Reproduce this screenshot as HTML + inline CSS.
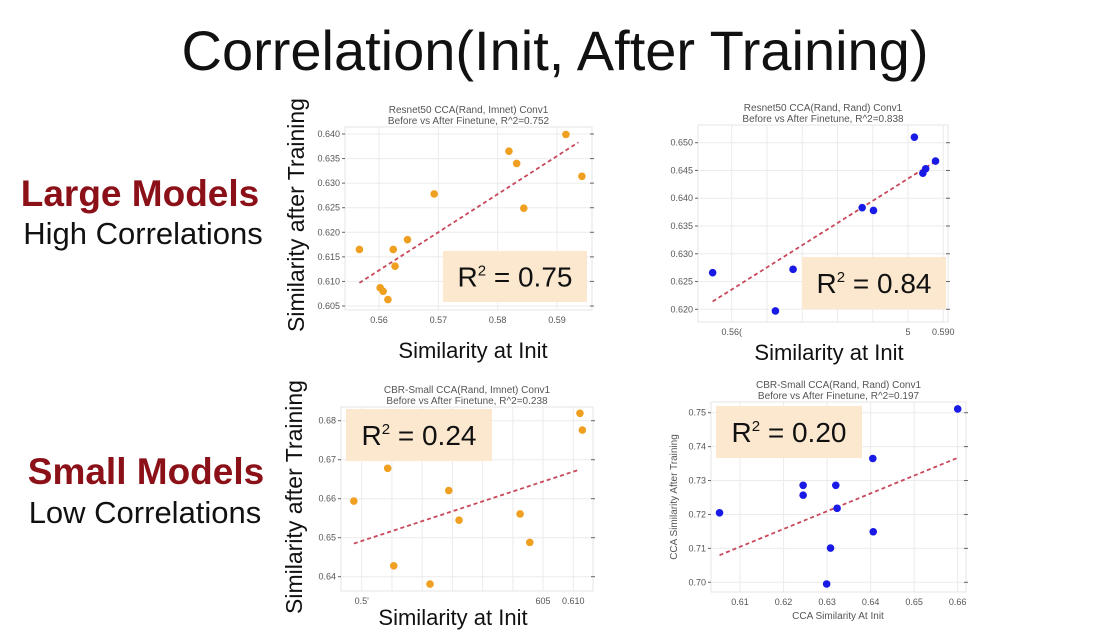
<!DOCTYPE html>
<html><head><meta charset="utf-8"><style>
html,body{margin:0;padding:0;background:#fff;}
svg{display:block;font-family:"Liberation Sans",Arial,sans-serif;}
</style></head><body>
<svg id="root" width="1114" height="632" viewBox="0 0 1114 632">
<text x="555" y="70" text-anchor="middle" font-size="56" fill="#111">Correlation(Init, After Training)</text>
<text x="140" y="206" text-anchor="middle" font-size="37" font-weight="bold" fill="#8b1018">Large Models</text>
<text x="143" y="244" text-anchor="middle" font-size="31" fill="#111">High Correlations</text>
<text x="146" y="484" text-anchor="middle" font-size="37" font-weight="bold" fill="#8b1018">Small Models</text>
<text x="145" y="523" text-anchor="middle" font-size="31" fill="#111">Low Correlations</text>
<g id="plots"></g>
</svg>
<script>
// Plot 1: Resnet50 Rand vs Imnet
const p1X = [0.5567,0.5602,0.5607,0.5615,0.5624,0.5627,0.5648,0.5693,0.5819,0.5832,0.5844,0.5915,0.5942];
const p1Y = [0.6165,0.6087,0.6080,0.6063,0.6165,0.6131,0.6185,0.6278,0.6365,0.6340,0.6249,0.6399,0.6314];
const p1LineX = [0.5567,0.5936];
const p1LineY = [0.6097,0.6383];
const p1XTicks = [0.56,0.57,0.58,0.59];
const p1XLabels = ["0.56","0.57","0.58","0.59"];
const p1YTicks = [0.605,0.610,0.615,0.620,0.625,0.630,0.635,0.640];
const p1YLabels = ["0.605","0.610","0.615","0.620","0.625","0.630","0.635","0.640"];
// Plot 2: Resnet50 Rand vs Rand
const p2X = [0.5573,0.5662,0.5687,0.5785,0.5801,0.5859,0.5871,0.5875,0.5889];
const p2Y = [0.6266,0.6197,0.6272,0.6383,0.6378,0.6510,0.6445,0.6453,0.6467];
const p2LineX = [0.5573,0.5891];
const p2LineY = [0.6214,0.6468];
const p2XTicks = [0.560,0.565,0.570,0.575,0.580,0.585,0.590];
const p2XLabels = ["0.56(","","","","","5","0.590"];
const p2YTicks = [0.620,0.625,0.630,0.635,0.640,0.645,0.650];
const p2YLabels = ["0.620","0.625","0.630","0.635","0.640","0.645","0.650"];
// Plot 3: CBR-Small Rand vs Imnet
const p3X = [0.5737,0.5793,0.5803,0.5863,0.5894,0.5911,0.6012,0.6028,0.6111,0.6115];
const p3Y = [0.6594,0.6678,0.6428,0.6381,0.6621,0.6545,0.6561,0.6488,0.6819,0.6776];
const p3LineX = [0.5737,0.6111];
const p3LineY = [0.6485,0.6675];
const p3XTicks = [0.575,0.580,0.585,0.590,0.595,0.600,0.605,0.610];
const p3XLabels = ["0.5'","","","","","","605","0.610"];
const p3YTicks = [0.64,0.65,0.66,0.67,0.68];
const p3YLabels = ["0.64","0.65","0.66","0.67","0.68"];
// Plot 4: CBR-Small Rand vs Rand
const p4X = [0.6053,0.6245,0.6245,0.6299,0.6308,0.6320,0.6323,0.6405,0.6406,0.6600];
const p4Y = [0.7205,0.7286,0.7257,0.6995,0.7101,0.7286,0.7218,0.7365,0.7149,0.7511];
const p4LineX = [0.6053,0.6598];
const p4LineY = [0.7080,0.7366];
const p4XTicks = [0.61,0.62,0.63,0.64,0.65,0.66];
const p4XLabels = ["0.61","0.62","0.63","0.64","0.65","0.66"];
const p4YTicks = [0.70,0.71,0.72,0.73,0.74,0.75];
const p4YLabels = ["0.70","0.71","0.72","0.73","0.74","0.75"];

const NS = "http://www.w3.org/2000/svg";
const root = document.getElementById('plots');
function mk(tag, attrs, parent, txt){
  const e = document.createElementNS(NS, tag);
  for (const k in attrs) e.setAttribute(k, attrs[k]);
  if (txt !== undefined) e.textContent = txt;
  parent.appendChild(e);
  return e;
}
function plot(cfg){
  const g = mk('g', {}, root);
  
  
  const sx = v => cfg.px0 + (v - cfg.dx0) / (cfg.dx1 - cfg.dx0) * (cfg.px1 - cfg.px0);
  const sy = v => cfg.py0 + (v - cfg.dy0) / (cfg.dy1 - cfg.dy0) * (cfg.py1 - cfg.py0);
  const f = cfg.frame;
  const fr = mk('rect', {x:f[0], y:f[1], width:f[2]-f[0], height:f[3]-f[1], fill:'#fff', stroke:'#e4e4e4', 'stroke-width':1}, g);
  
  
  cfg.xt.forEach((t,i) => {
    const x = sx(t);
    const gl = mk('line', {x1:x, x2:x, y1:f[1], y2:f[3], stroke:'#ebebeb', 'stroke-width':1}, g);
    
    
    const tl = mk('text', {x:x, y:f[3]+13, 'text-anchor':'middle', 'font-size':9, fill:'#555'}, g, cfg.xl[i]);
    
    
  });
  cfg.yt.forEach((t,i) => {
    const y = sy(t);
    const gl = mk('line', {x1:f[0], x2:f[2], y1:y, y2:y, stroke:'#ebebeb', 'stroke-width':1}, g);
    
    
    const tk = mk('line', {x1:f[0]-3, x2:f[0], y1:y, y2:y, stroke:'#666', 'stroke-width':1}, g);
    
    
    const rk = mk('line', {x1:f[2]-2, x2:f[2]+2, y1:y, y2:y, stroke:'#666', 'stroke-width':1}, g);
    
    
    const tl = mk('text', {x:f[0]-5, y:y+3, 'text-anchor':'end', 'font-size':9, fill:'#555'}, g, cfg.yl[i]);
    
    
  });
  const cx = (f[0]+f[2])/2;
  const t1 = mk('text', {x:cx, y:f[1]-14, 'text-anchor':'middle', 'font-size':10, fill:'#555'}, g, cfg.t1);
  
  
  const t2 = mk('text', {x:cx, y:f[1]-3, 'text-anchor':'middle', 'font-size':10, fill:'#555'}, g, cfg.t2);
  
  
  const box = mk('rect', {x:cfg.box[0], y:cfg.box[1], width:cfg.box[2]-cfg.box[0], height:cfg.box[3]-cfg.box[1], fill:'#fbe8cf'}, g);
  
  
  const ln = mk('line', {x1:sx(cfg.lx[0]), y1:sy(cfg.ly[0]), x2:sx(cfg.lx[1]), y2:sy(cfg.ly[1]), stroke:'#c8485a', 'stroke-width':1.8, 'stroke-dasharray':'4,3'}, g);
  
  
  cfg.x.forEach((v,i) => {
    const c = mk('circle', {cx:sx(v), cy:sy(cfg.y[i]), r:3.8, fill:cfg.color}, g);
    
    
  });
  const bx = (cfg.box[0]+cfg.box[2])/2, by = (cfg.box[1]+cfg.box[3])/2 + 10;
  const rt = mk('text', {x:bx, y:by, 'text-anchor':'middle', 'font-size':28, fill:'#111'}, g);
  
  
  mk('tspan', {}, rt, 'R');
  mk('tspan', {'font-size':15, dy:-11}, rt, '2');
  mk('tspan', {dy:11}, rt, ' = ' + cfg.r2);
  if (cfg.xlab) {
    const xl = mk('text', {x:cfg.xlab[0], y:cfg.xlab[1], 'text-anchor':'middle', 'font-size':cfg.xlab[2], fill:cfg.xlab[3]}, g, cfg.xlab[4]);
    
    
  }
  if (cfg.ylab) {
    const yl = mk('text', {x:0, y:0, 'text-anchor':'middle', 'font-size':cfg.ylab[2], fill:cfg.ylab[3], transform:`translate(${cfg.ylab[0]},${cfg.ylab[1]}) rotate(-90)`}, g, cfg.ylab[4]);
    
    
  }
}
plot({name:'resnet50-rand-imnet-plot', frame:[345,127,592,310], px0:379, px1:557, dx0:0.56, dx1:0.59, py0:134, py1:306, dy0:0.640, dy1:0.605,
  x:p1X, y:p1Y, lx:p1LineX, ly:p1LineY, xt:p1XTicks, xl:p1XLabels, yt:p1YTicks, yl:p1YLabels, color:'#f0a020',
  t1:'Resnet50 CCA(Rand, Imnet) Conv1', t2:'Before vs After Finetune, R^2=0.752', box:[443,251,587,302], r2:'0.75',
  xlab:[473,358,22,'#111','Similarity at Init'], ylab:[304,215,23,'#111','Similarity after Training']});
plot({name:'resnet50-rand-rand-plot', frame:[698,125,948,322], px0:731.7, px1:943.3, dx0:0.56, dx1:0.59, py0:142.7, py1:309.3, dy0:0.650, dy1:0.620,
  x:p2X, y:p2Y, lx:p2LineX, ly:p2LineY, xt:p2XTicks, xl:p2XLabels, yt:p2YTicks, yl:p2YLabels, color:'#1a1ae6',
  t1:'Resnet50 CCA(Rand, Rand) Conv1', t2:'Before vs After Finetune, R^2=0.838', box:[802,257,946,309], r2:'0.84',
  xlab:[829,360,22,'#111','Similarity at Init']});
plot({name:'cbr-small-rand-imnet-plot', frame:[341,407,593,591], px0:361.7, px1:573.3, dx0:0.575, dx1:0.610, py0:420.7, py1:576.7, dy0:0.68, dy1:0.64,
  x:p3X, y:p3Y, lx:p3LineX, ly:p3LineY, xt:p3XTicks, xl:p3XLabels, yt:p3YTicks, yl:p3YLabels, color:'#f0a020',
  t1:'CBR-Small CCA(Rand, Imnet) Conv1', t2:'Before vs After Finetune, R^2=0.238', box:[346,409,492,461], r2:'0.24',
  xlab:[453,625,22,'#111','Similarity at Init'], ylab:[302,497,23,'#111','Similarity after Training']});
plot({name:'cbr-small-rand-rand-plot', frame:[711,402,966,592], px0:740, px1:957.7, dx0:0.61, dx1:0.66, py0:412.7, py1:582.3, dy0:0.75, dy1:0.70,
  x:p4X, y:p4Y, lx:p4LineX, ly:p4LineY, xt:p4XTicks, xl:p4XLabels, yt:p4YTicks, yl:p4YLabels, color:'#1a1ae6',
  t1:'CBR-Small CCA(Rand, Rand) Conv1', t2:'Before vs After Finetune, R^2=0.197', box:[716,406,862,458], r2:'0.20',
  xlab:[838,619,10,'#555','CCA Similarity At Init'], ylab:[677,497,10,'#555','CCA Similarity After Training']});
</script>
</body></html>
